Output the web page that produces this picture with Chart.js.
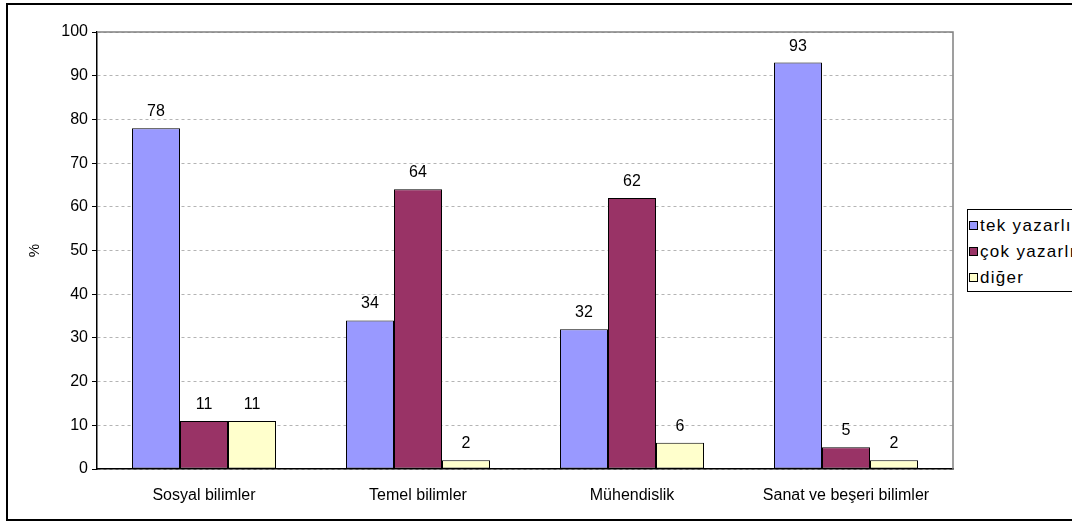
<!DOCTYPE html>
<html>
<head>
<meta charset="utf-8">
<script src="https://cdn.jsdelivr.net/npm/chart.js@4.4.1/dist/chart.umd.min.js"></script>
<style>
  html, body { margin: 0; padding: 0; background: #fff; overflow: hidden; }
  #wrap { position: relative; width: 1072px; height: 525px; overflow: hidden; }
  #frame { position: absolute; left: 6px; top: 3px; width: 1066px; height: 518px; border: 2px solid #000; border-right: none; box-sizing: border-box; pointer-events: none; }
  #legend { position: absolute; left: 967px; top: 209px; width: 105px; height: 83px; border: 1px solid #000; border-right: none; box-sizing: border-box; background: #fff; overflow: hidden;
            font-family: "Liberation Sans", Arial, sans-serif; font-size: 17px; letter-spacing: 1.3px; color: #000; }
  #legend div { position: absolute; left: 1px; white-space: nowrap; line-height: 18px; }
  #legend span.box { display: inline-block; width: 7px; height: 7px; border: 1px solid #000; margin-right: 2px; vertical-align: 1px; }
</style>
</head>
<body>
<div id="wrap">
  <canvas id="chart" width="1072" height="525"></canvas>
  <div id="legend"></div>
  <div id="frame"></div>
</div>
<script>
// Chart data
const categories = ['Sosyal bilimler', 'Temel bilimler', 'Mühendislik', 'Sanat ve beşeri bilimler'];
const seriesNames = ['tek yazarlı', 'çok yazarlı', 'diğer'];
const tekYazarli = [78, 34, 32, 93];
const cokYazarli = [11, 64, 62, 5];
const diger = [11, 2, 6, 2];
const yTicks = [0, 10, 20, 30, 40, 50, 60, 70, 80, 90, 100];

const colors = ['#9999FF', '#993366', '#FFFFCC'];
const FONT = '"Liberation Sans", Arial, sans-serif';

// Draws the value above each bar
const valueLabels = {
    id: 'valueLabels',
    afterDatasetsDraw(chart) {
        const ctx = chart.ctx;
        ctx.save();
        ctx.font = '16px ' + FONT;
        ctx.fillStyle = '#000';
        ctx.textAlign = 'center';
        ctx.textBaseline = 'alphabetic';
        chart.data.datasets.forEach((ds, i) => {
            chart.getDatasetMeta(i).data.forEach((bar, j) => {
                ctx.fillText(ds.data[j], bar.x, bar.y - 12);
            });
        });
        ctx.restore();
    }
};

// Gray top and right edge of the plot area
const plotFrame = {
    id: 'plotFrame',
    afterDraw(chart) {
        const a = chart.chartArea;
        const ctx = chart.ctx;
        ctx.save();
        ctx.strokeStyle = '#808080';
        ctx.lineWidth = 1.5;
        ctx.beginPath();
        ctx.moveTo(a.left, a.top);
        ctx.lineTo(a.right, a.top);
        ctx.lineTo(a.right, a.bottom);
        ctx.stroke();
        ctx.restore();
    }
};

const chart = new Chart(document.getElementById('chart'), {
    type: 'bar',
    data: {
        labels: categories,
        datasets: [
            { label: seriesNames[0], data: tekYazarli, backgroundColor: colors[0] },
            { label: seriesNames[1], data: cokYazarli, backgroundColor: colors[1] },
            { label: seriesNames[2], data: diger, backgroundColor: colors[2] }
        ].map(d => Object.assign(d, { borderColor: '#000', borderWidth: 1, borderSkipped: false }))
    },
    options: {
        responsive: false,
        animation: false,
        layout: { padding: { left: 0, top: 32, right: 119, bottom: 0 } },
        datasets: { bar: { categoryPercentage: 0.673, barPercentage: 1 } },
        plugins: { legend: { display: false }, tooltip: { enabled: false } },
        scales: {
            x: {
                grid: { display: false, drawTicks: false },
                border: { display: true, color: '#000', width: 1.5 },
                ticks: { color: '#000', font: { family: FONT, size: 16 }, padding: 17, maxRotation: 0 },
                afterFit(scale) { scale.height = 56; }
            },
            y: {
                min: 0, max: 100,
                afterBuildTicks(scale) { scale.ticks = yTicks.map(v => ({ value: v })); },
                grid: { color: '#b4b4b4', tickColor: '#000', tickLength: 5, lineWidth: 1 },
                border: { display: true, color: '#000', width: 1.5, dash: [3, 3] },
                ticks: { color: '#000', font: { family: FONT, size: 16 }, padding: 4 },
                title: { display: true, text: '%', color: '#000', font: { family: FONT, size: 15 }, padding: { top: 26, bottom: 0 } },
                afterFit(scale) { scale.width = 97; }
            }
        }
    },
    plugins: [valueLabels, plotFrame]
});

// Legend built from the datasets
const legend = document.getElementById('legend');
chart.data.datasets.forEach((ds, i) => {
    const item = document.createElement('div');
    item.style.top = (7 + i * 26) + 'px';
    item.innerHTML = '<span class="box" style="background:' + ds.backgroundColor + '"></span>' + ds.label;
    legend.appendChild(item);
});
</script>
</body>
</html>
